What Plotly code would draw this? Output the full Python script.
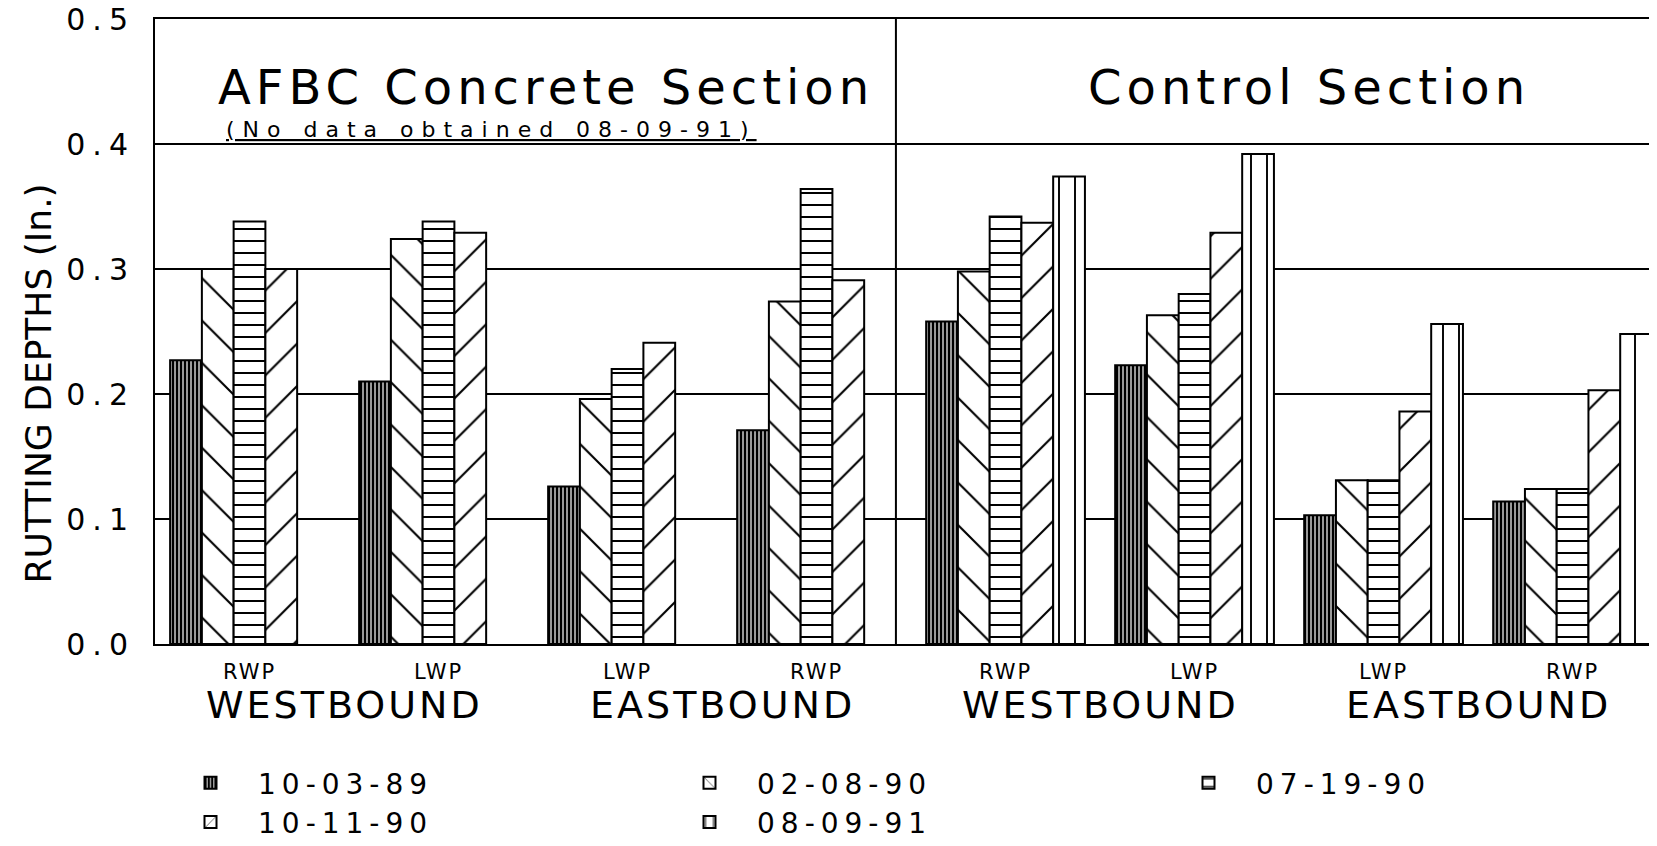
import plotly.graph_objects as go

categories = ["AFBC WB RWP", "AFBC WB LWP", "AFBC EB LWP", "AFBC EB RWP",
              "CTRL WB RWP", "CTRL WB LWP", "CTRL EB LWP", "CTRL EB RWP"]
tick_labels = ["RWP", "LWP", "LWP", "RWP", "RWP", "LWP", "LWP", "RWP"]
y_ticks = [0.0, 0.1, 0.2, 0.3, 0.4, 0.5]

d_100389 = [0.227, 0.210, 0.126, 0.171, 0.258, 0.223, 0.103, 0.114]
d_020890 = [0.300, 0.324, 0.196, 0.274, 0.298, 0.263, 0.131, 0.124]
d_071990 = [0.338, 0.338, 0.220, 0.364, 0.342, 0.280, 0.131, 0.124]
d_101190 = [0.300, 0.329, 0.241, 0.291, 0.337, 0.329, 0.186, 0.203]
d_080991 = [None, None, None, None, 0.374, 0.392, 0.256, 0.248]

series_names = ["10-03-89", "02-08-90", "07-19-90", "10-11-90", "08-09-91"]
series_values = [d_100389, d_020890, d_071990, d_101190, d_080991]
patterns = [
    dict(shape="|", size=4, solidity=0.7),
    dict(shape="\\", size=30, solidity=0.07),
    dict(shape="-", size=12, solidity=0.17),
    dict(shape="/", size=30, solidity=0.07),
    dict(shape="|", size=16, solidity=0.12),
]

FONT = "DejaVu Sans"
BARGAP = 0.16


def spaced(text, px):
    return f'<span style="letter-spacing:{px}px">{text}</span>'


fig = go.Figure()
for name, vals, pat in zip(series_names, series_values, patterns):
    fig.add_trace(go.Bar(
        x=categories, y=vals, name=spaced(name, 6),
        marker=dict(color="white",
                    line=dict(color="black", width=2),
                    pattern=dict(fgcolor="black", bgcolor="white",
                                 fgopacity=1, fillmode="replace", **pat)),
    ))

# divider between the two sections (right edge of 5th slot of group 4)
div_x = 3 + 0.5 * (1 - BARGAP)

fig.update_layout(
    width=1657, height=846,
    margin=dict(l=147, r=0, t=11, b=210),
    paper_bgcolor="white", plot_bgcolor="white",
    barmode="group", bargap=BARGAP, bargroupgap=0,
    font=dict(family=FONT, color="black"),
    xaxis=dict(
        type="category", range=[-0.5, 7.489], automargin=False,
        tickvals=categories, ticktext=[spaced(t, 2) for t in tick_labels],
        tickfont=dict(size=21), ticks="", ticklabelstandoff=8,
        showline=True, linecolor="black", linewidth=2, mirror=True,
        showgrid=False,
    ),
    yaxis=dict(
        range=[0, 0.5], automargin=False, ticklabeloverflow="allow",
        tickvals=y_ticks, ticktext=[spaced(f"{v:.1f}", 7) for v in y_ticks],
        tickfont=dict(size=30), ticks="", ticklabelstandoff=12,
        showline=True, linecolor="black", linewidth=2,
        showgrid=True, gridcolor="black", gridwidth=1.5,
        zeroline=False,
    ),
    legend=dict(
        orientation="h", x=0.0053, xanchor="left", y=-0.3248, yanchor="bottom",
        font=dict(size=28), entrywidth=399, entrywidthmode="pixels",
        itemwidth=85, traceorder="normal",
    ),
    showlegend=True,
    shapes=[dict(type="line", xref="x", yref="paper", x0=div_x, x1=div_x,
                 y0=0, y1=1, line=dict(color="black", width=2))],
)

# y-axis title
fig.add_annotation(x=-0.0772, xref="paper", y=0.4176, yref="paper",
                   xanchor="center", yanchor="middle", showarrow=False,
                   textangle=-90, text="RUTTING DEPTHS (In.)", font=dict(size=36))

annos = [
    dict(x=1.57, y=0.446, text=spaced("AFBC Concrete Section", 5), font=dict(size=48)),
    dict(x=5.606, y=0.446, text=spaced("Control Section", 5), font=dict(size=48)),
    dict(x=1.28, y=0.400, text="<u>" + spaced("(No data obtained 08-09-91)", 8) + "</u>",
         font=dict(size=22), yanchor="bottom"),
]
for a in annos:
    fig.add_annotation(xref="x", yref="y", showarrow=False, **a)

for xpos, label in [(0.5, "WESTBOUND"), (2.5, "EASTBOUND"),
                    (4.5, "WESTBOUND"), (6.5, "EASTBOUND")]:
    fig.add_annotation(x=xpos, xref="x", y=-0.0976, yref="paper", yanchor="middle",
                       showarrow=False, text=spaced(label, 3), font=dict(size=38))

fig.write_html("out.html")
